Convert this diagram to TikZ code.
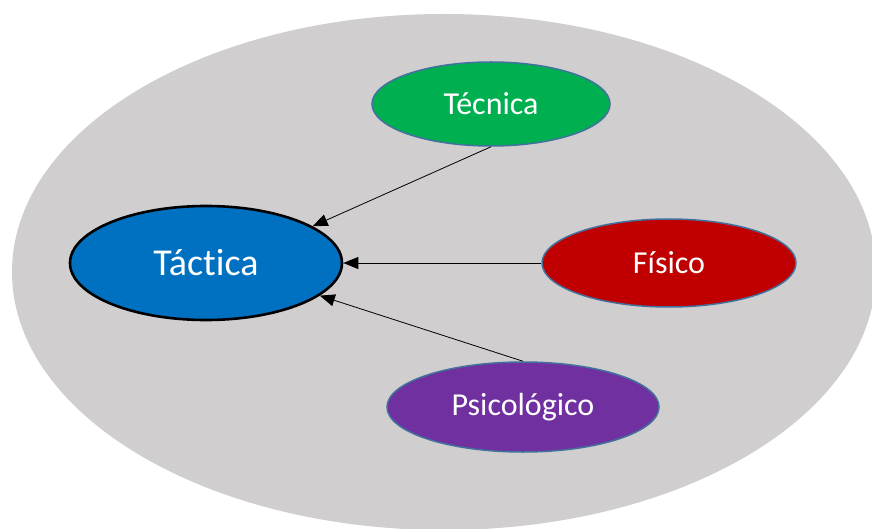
\documentclass[tikz,border=0pt]{standalone}
\usepackage{fontspec}
\setmainfont[Ligatures={NoCommon,NoRare,NoContextual,NoHistoric}]{Carlito}
\usepackage{tikz}
\usetikzlibrary{shapes.geometric,arrows.meta}

\definecolor{fondo}{HTML}{D0CECE}
\definecolor{azul}{HTML}{0070C0}
\definecolor{verde}{HTML}{00B050}
\definecolor{rojo}{HTML}{C00000}
\definecolor{morado}{HTML}{7030A0}
\definecolor{borde}{HTML}{41719C}

\begin{document}
\begin{tikzpicture}[x=1pt, y=1pt,
        area/.style={ellipse, draw=borde, line width=1.5pt, inner sep=0pt,
            text=white, font=\fontsize{32}{38}\selectfont},
        flecha/.style={-{Triangle[length=15pt, width=12pt]}, line width=0.8pt}]
        \useasboundingbox (0,0) rectangle (872,528);
        \clip (0,0) rectangle (872,528);
        \fill [fondo] (444,256) ellipse [x radius=432, y radius=258];
        % nodos
        \node [ellipse, draw=black, line width=2.6pt, fill=azul, inner sep=0pt,
            minimum width=272pt, minimum height=114pt, text=white,
            font=\fontsize{38}{44}\selectfont] (tac) at (206,265) {Táctica};
        \node [area, fill=verde, minimum width=238pt, minimum height=84pt] (tec) at (491,424) {Técnica};
        \node [area, fill=rojo, minimum width=254pt, minimum height=88pt] (fis) at (669,265) {Físico};
        \node [area, fill=morado, minimum width=272pt, minimum height=90pt] (psi) at (523,121) {Psicológico};
        % flechas
        \draw [flecha] (tec.south) -- (tac.19);
        \draw [flecha] (fis.west) -- (tac.east);
        \draw [flecha] (psi.north) -- (tac.-16);
    \end{tikzpicture}
\end{document}
